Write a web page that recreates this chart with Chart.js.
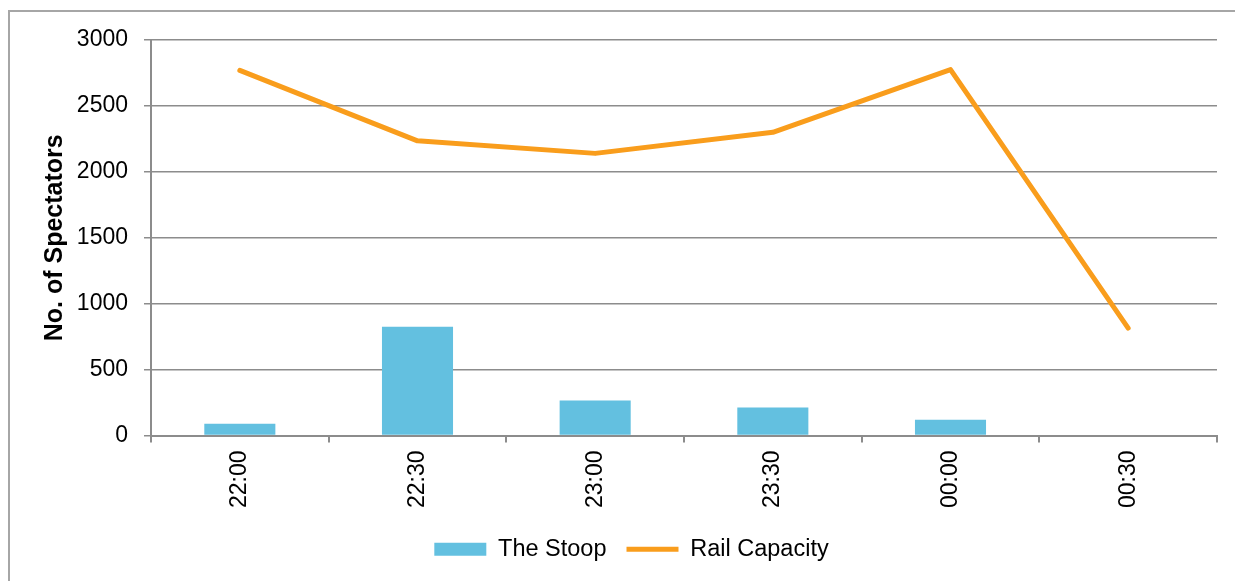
<!DOCTYPE html>
<html>
<head>
<meta charset="utf-8">
<title>Spectators vs Rail Capacity</title>
<script src="https://cdn.jsdelivr.net/npm/chart.js@4"></script>
<style>
  html, body { margin: 0; padding: 0; background: #fff; }
  #wrap { position: relative; width: 1235px; height: 581px; overflow: hidden; }
  #frame {
    position: absolute; left: 8px; top: 10px; width: 1300px; height: 700px;
    border-left: 2px solid #a6a6a6; border-top: 2px solid #a6a6a6;
  }
  #chart { position: absolute; left: 0; top: 0; }
</style>
</head>
<body>
<div id="wrap">
  <div id="frame"></div>
  <canvas id="chart" width="1235" height="581"></canvas>
</div>
<script>
const timeLabels = ["22:00", "22:30", "23:00", "23:30", "00:00", "00:30"];
const stoopSpectators = [90, 825, 265, 212, 120, 5];
const railCapacity = [2770, 2235, 2140, 2300, 2775, 815];
const yTicks = [0, 500, 1000, 1500, 2000, 2500, 3000];

const gridGray = "#8c8c8c";

Chart.defaults.font.family = "'Liberation Sans', Arial, sans-serif";
Chart.defaults.font.size = 23;
Chart.defaults.color = "#000";

// nudge the legend row to the right of the canvas centre
const legendShift = {
  id: "legendShift",
  afterLayout(chart) {
    chart.legend.left += 23;
    chart.legend.right += 23;
  },
};

const ctx = document.getElementById("chart").getContext("2d");
new Chart(ctx, {
  type: "bar",
  data: {
    labels: timeLabels,
    datasets: [
      {
        label: "The Stoop",
        data: stoopSpectators,
        backgroundColor: "#63c0e0",
        borderWidth: 0,
        barPercentage: 0.4,
        categoryPercentage: 1,
        pointStyle: "rect",
      },
      {
        type: "line",
        label: "Rail Capacity",
        data: railCapacity,
        borderColor: "#f99d1c",
        backgroundColor: "#f99d1c",
        borderWidth: 5,
        borderCapStyle: "round",
        borderJoinStyle: "round",
        pointRadius: 0,
        pointHoverRadius: 0,
        pointStyle: "line",
        tension: 0,
      },
    ],
  },
  options: {
    responsive: false,
    animation: false,
    devicePixelRatio: 1,
    layout: { padding: { top: 40, right: 18, bottom: 10, left: 0 } },
    plugins: {
      tooltip: { enabled: false },
      legend: {
        position: "bottom",
        labels: {
          usePointStyle: true,
          pointStyleWidth: 52,
          boxHeight: 13,
          padding: 20,
          color: "#000",
          font: { size: 23.5 },
        },
      },
    },
    scales: {
      x: {
        offset: true,
        grid: {
          offset: true,
          drawOnChartArea: false,
          drawTicks: true,
          tickLength: 7,
          color: gridGray,
          lineWidth: 2,
        },
        border: { color: gridGray, width: 2 },
        ticks: { minRotation: 90, maxRotation: 90, padding: 8, color: "#000" },
        afterFit(scale) {
          scale.height = 82;
        },
      },
      y: {
        min: 0,
        max: 3000,
        afterBuildTicks(scale) {
          scale.ticks = yTicks.map((v) => ({ value: v }));
        },
        grid: { color: gridGray, lineWidth: 1.5, tickLength: 7 },
        border: { color: gridGray, width: 2 },
        ticks: {
          padding: 16,
          color: "#000",
          callback: (value) => String(value),
        },
        title: {
          display: true,
          text: "No. of Spectators",
          font: { weight: "bold", size: 25 },
          color: "#000",
          padding: { top: 40, bottom: 0 },
        },
        afterFit(scale) {
          scale.width = 151;
        },
      },
    },
  },
  plugins: [legendShift],
});
</script>
</body>
</html>
